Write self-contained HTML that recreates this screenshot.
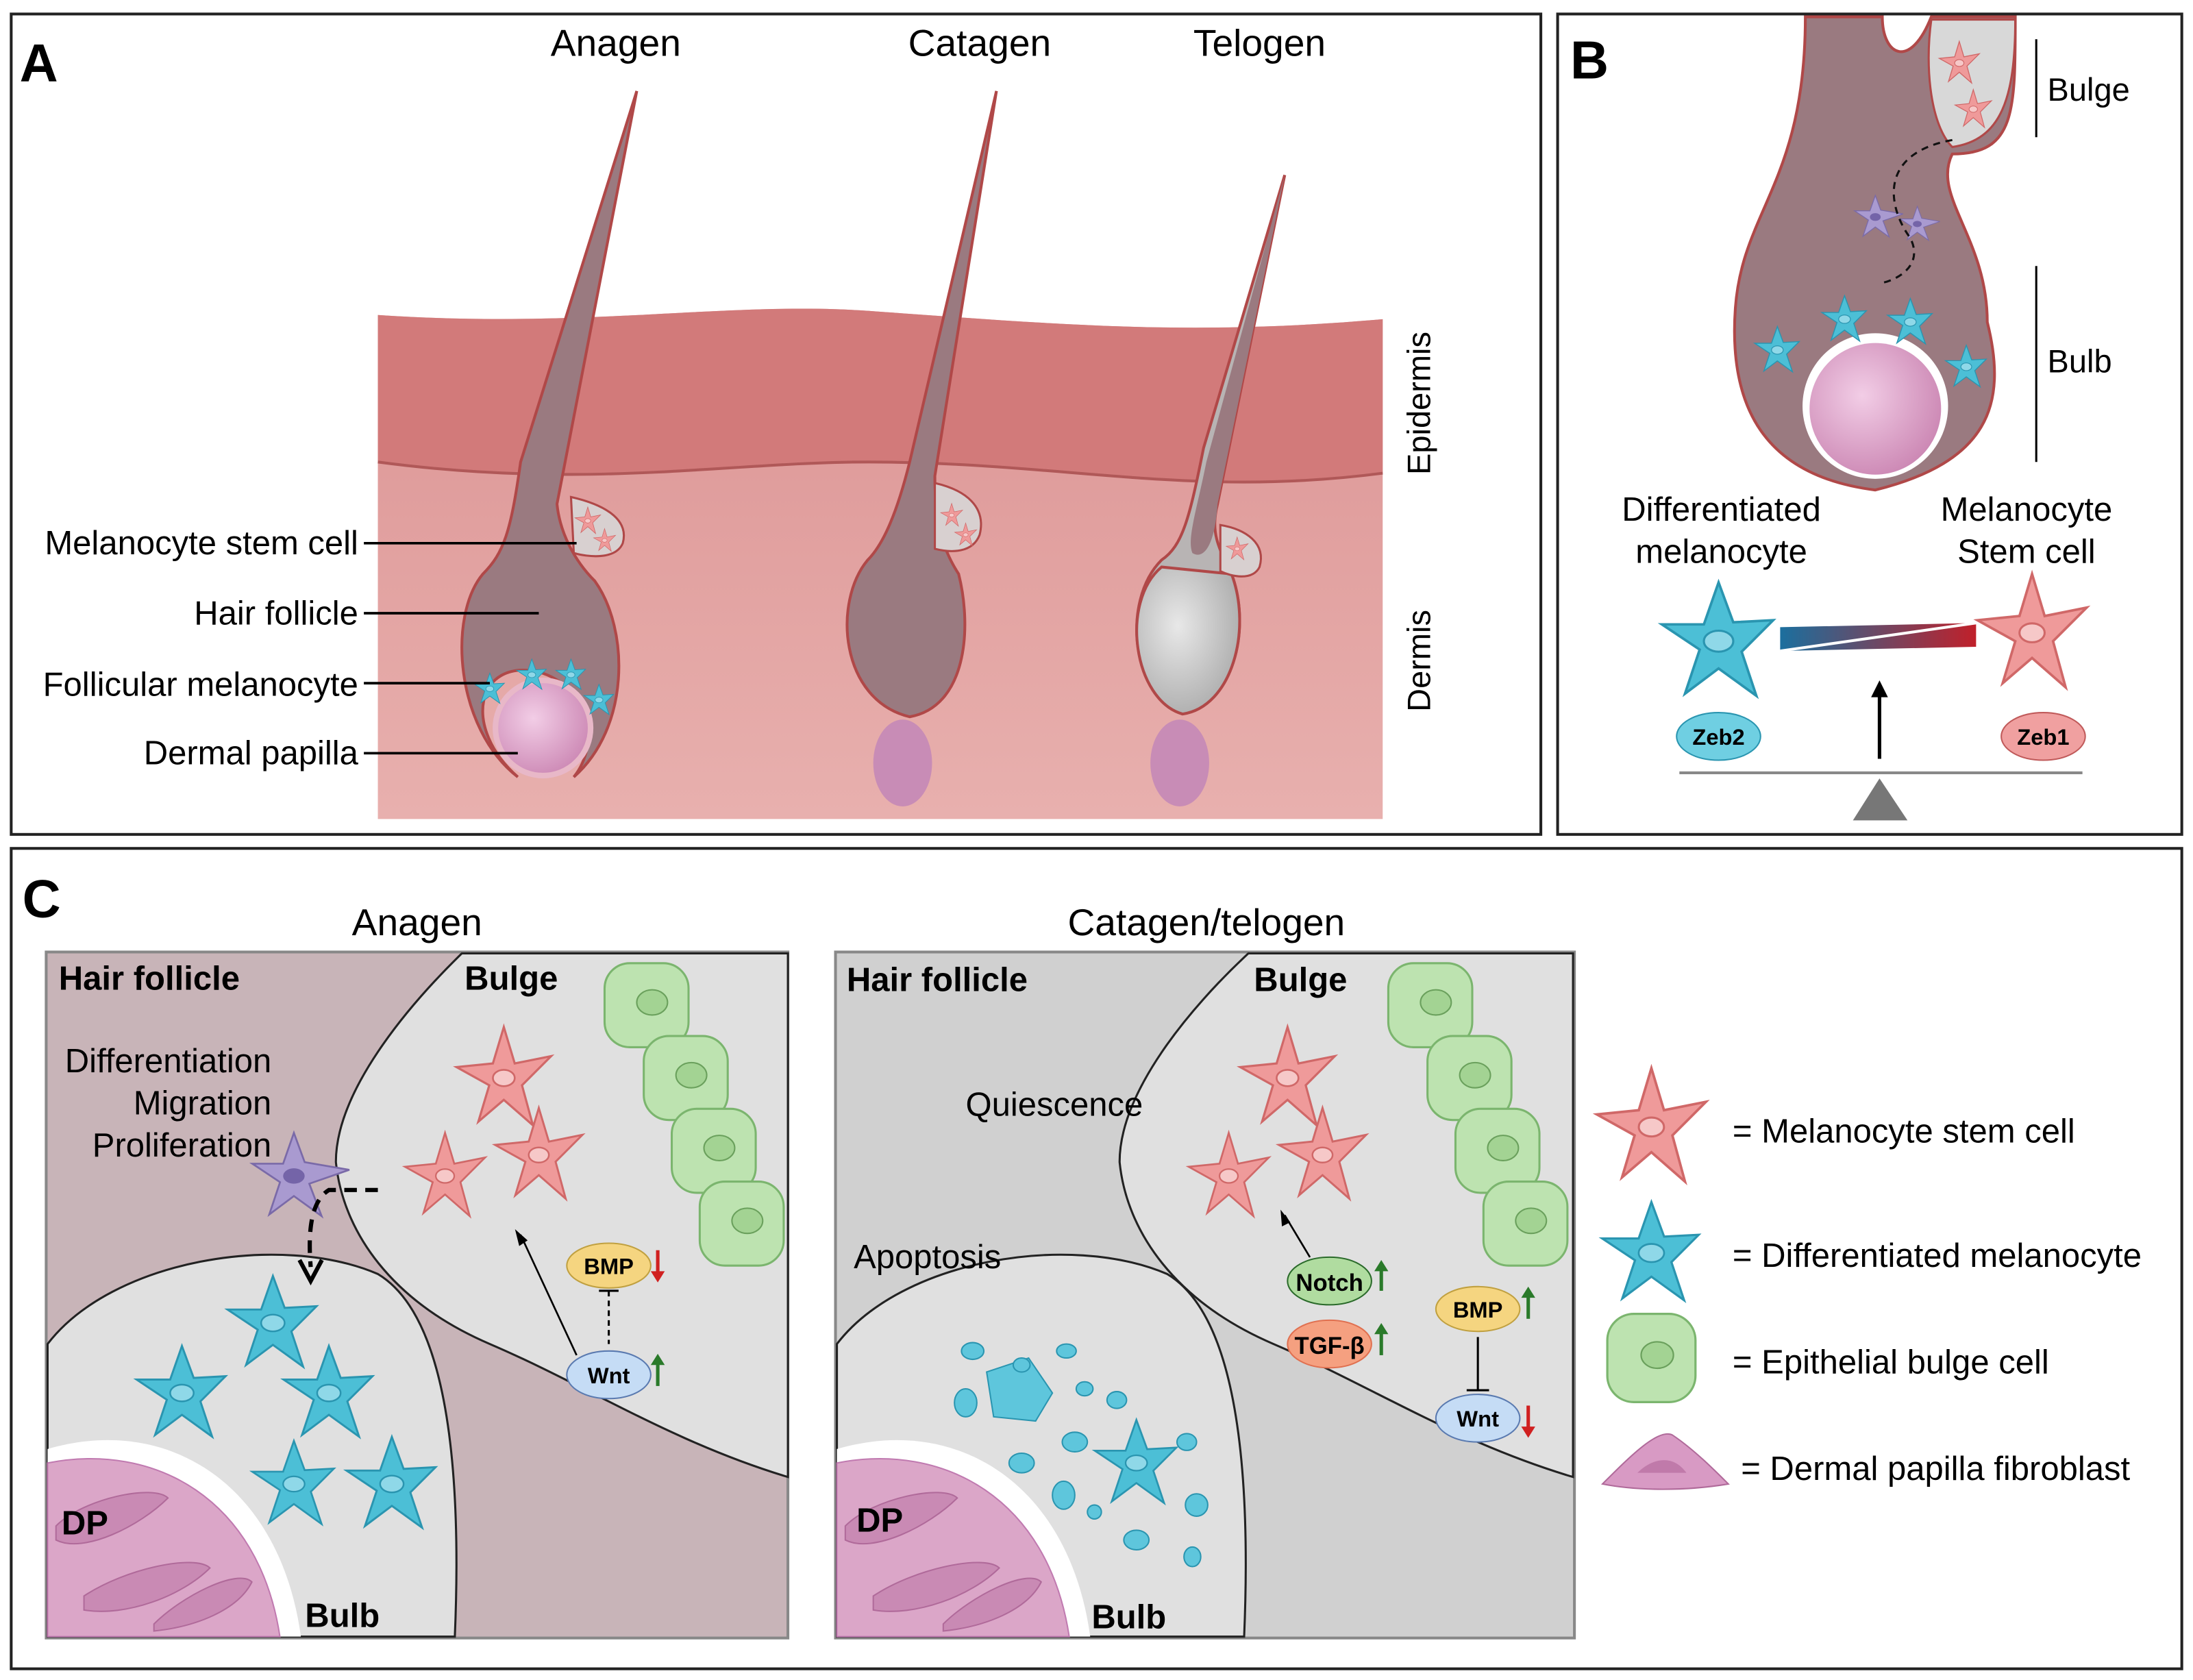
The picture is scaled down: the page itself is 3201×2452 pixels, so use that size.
<!DOCTYPE html>
<html><head><meta charset="utf-8"><style>
html,body{margin:0;padding:0;background:#fff}
svg{display:block}
text{font-family:"Liberation Sans",sans-serif}
</style></head><body>
<svg width="3201" height="2452" viewBox="0 0 1567 1200" preserveAspectRatio="none" xmlns="http://www.w3.org/2000/svg">
<defs>
<linearGradient id="derm" x1="0" y1="0" x2="0" y2="1"><stop offset="0" stop-color="#dc9494"/><stop offset="1" stop-color="#e8b0ae"/></linearGradient>
<linearGradient id="bar" x1="0" y1="0" x2="1" y2="0"><stop offset="0" stop-color="#1b6f9e"/><stop offset="1" stop-color="#c0202a"/></linearGradient>
<radialGradient id="dp" cx="0.4" cy="0.4" r="0.7"><stop offset="0" stop-color="#f2cde6"/><stop offset="1" stop-color="#c982b0"/></radialGradient>
<radialGradient id="grey" cx="0.4" cy="0.4" r="0.7"><stop offset="0" stop-color="#e8e8e8"/><stop offset="1" stop-color="#a8a8a8"/></radialGradient>
<g id="rs"><path d="M0,-28 L6,-8 L26,-12 L10,4 L16,26 L0,12 L-14,24 L-8,4 L-26,-6 L-6,-8 Z" fill="#ef9a9a" stroke="#d06868" stroke-width="1.2"/><ellipse cx="0" cy="0" rx="6" ry="4.5" fill="#f6c8c8" stroke="#d06868"/></g>
<g id="cs"><path d="M0,-28 L7,-9 L26,-10 L11,5 L18,26 L0,13 L-16,25 L-9,4 L-27,-8 L-7,-8 Z" fill="#4cbfd6" stroke="#2a95b0" stroke-width="1.2"/><ellipse cx="0" cy="0" rx="7" ry="5" fill="#8fd8e8" stroke="#2a95b0"/></g>
<g id="ps"><path d="M0,-28 L7,-9 L36,-4 L10,5 L18,26 L0,13 L-16,25 L-9,4 L-27,-8 L-7,-8 Z" fill="#a99ad0" stroke="#7a6aa8" stroke-width="1.2"/><ellipse cx="0" cy="0" rx="7" ry="5" fill="#7464a8"/></g>
<g id="ep"><rect x="-30" y="-30" width="60" height="60" rx="18" fill="#bde3b0" stroke="#7bb56e" stroke-width="1.5"/><ellipse cx="4" cy="-2" rx="11" ry="9" fill="#a3d393" stroke="#6aa05c"/></g>
</defs>

<rect x="8" y="10" width="1093" height="586" fill="#fff" stroke="#222" stroke-width="2"/>
<rect x="1113" y="10" width="446" height="586" fill="#fff" stroke="#222" stroke-width="2"/>
<rect x="8" y="606" width="1551" height="586" fill="#fff" stroke="#222" stroke-width="2"/>
<text x="14" y="58" font-size="38" font-weight="bold">A</text>
<text x="1122" y="56" font-size="38" font-weight="bold">B</text>
<text x="16" y="655" font-size="38" font-weight="bold">C</text>

<path d="M270,225 C420,235 520,215 620,222 C760,232 850,240 988,228 L988,585 L270,585 Z" fill="url(#derm)"/>
<path d="M270,225 C420,235 520,215 620,222 C760,232 850,240 988,228 L988,338 C850,356 760,330 620,330 C520,330 420,350 270,330 Z" fill="#d27a7a"/>
<path d="M270,330 C420,350 520,330 620,330 C760,330 850,356 988,338" fill="none" stroke="#b05858" stroke-width="2"/>
<text x="1022" y="288" font-size="23" transform="rotate(-90 1022 288)" text-anchor="middle">Epidermis</text>
<text x="1022" y="472" font-size="23" transform="rotate(-90 1022 472)" text-anchor="middle">Dermis</text>

<path d="M455,65 L372,330 C365,380 360,395 345,410 C320,440 325,520 370,555 C330,520 340,470 385,480 C420,490 430,530 410,555 C450,520 450,450 425,415 C410,400 400,380 398,360 Z" fill="#9a7a80" stroke="#b04848" stroke-width="2"/>
<path d="M408,355 C430,360 450,370 445,388 C440,400 420,398 410,395 Z" fill="#d8d0d0" stroke="#b04848" stroke-width="1.5"/>
<use href="#rs" transform="translate(420,372) scale(0.35)"/><use href="#rs" transform="translate(432,386) scale(0.3)"/>
<circle cx="388" cy="520" r="34" fill="url(#dp)" stroke="#e8b8c8" stroke-width="4"/>
<use href="#cs" transform="translate(350,492) scale(0.4)"/><use href="#cs" transform="translate(380,482) scale(0.4)"/><use href="#cs" transform="translate(408,482) scale(0.4)"/><use href="#cs" transform="translate(428,500) scale(0.4)"/>
<path d="M712,65 L650,330 C640,370 630,390 620,400 C595,430 600,500 650,512 C690,505 695,450 685,410 C672,390 668,370 668,340 Z" fill="#9a7a80" stroke="#b04848" stroke-width="2"/>
<path d="M668,345 C690,350 705,362 700,382 C695,395 680,395 668,392 Z" fill="#d8d0d0" stroke="#b04848" stroke-width="1.5"/>
<use href="#rs" transform="translate(680,368) scale(0.3)"/><use href="#rs" transform="translate(690,382) scale(0.3)"/>
<ellipse cx="645" cy="545" rx="21" ry="31" fill="#c88cb6"/>
<path d="M918,125 L860,320 C850,370 845,390 830,400 C800,430 810,500 845,510 C880,505 895,450 880,410 C870,390 865,380 870,360 Z" fill="#b8b4b4" stroke="#b04848" stroke-width="2"/>
<path d="M830,405 C800,430 810,500 845,510 C880,505 895,450 880,410 Z" fill="url(#grey)" stroke="#b04848" stroke-width="2"/>
<path d="M918,125 L862,330 C855,365 848,385 852,395 C860,400 868,390 870,360 Z" fill="#9a7a80"/>
<path d="M872,375 C890,378 905,388 900,405 C895,415 880,412 872,408 Z" fill="#d8d0d0" stroke="#b04848" stroke-width="1.5"/>
<use href="#rs" transform="translate(884,392) scale(0.3)"/>
<ellipse cx="843" cy="545" rx="21" ry="31" fill="#c88cb6"/>
<text x="440" y="40" font-size="27" text-anchor="middle">Anagen</text>
<text x="700" y="40" font-size="27" text-anchor="middle">Catagen</text>
<text x="900" y="40" font-size="27" text-anchor="middle">Telogen</text>
<g font-size="24" text-anchor="end">
<text x="256" y="396">Melanocyte stem cell</text><text x="256" y="446">Hair follicle</text>
<text x="256" y="497">Follicular melanocyte</text><text x="256" y="546">Dermal papilla</text></g>
<g stroke="#000" stroke-width="1.8"><line x1="260" y1="388" x2="412" y2="388"/><line x1="260" y1="438" x2="385" y2="438"/><line x1="260" y1="488" x2="350" y2="488"/><line x1="260" y1="538" x2="370" y2="538"/></g>

<path d="M1290,12 L1345,12 C1345,40 1365,50 1380,12 L1440,12 C1440,80 1440,110 1395,110 C1380,140 1420,170 1420,230 C1435,290 1420,330 1340,350 C1260,340 1235,290 1240,220 C1245,150 1290,130 1290,12 Z" fill="#9a7a80" stroke="#b04848" stroke-width="2"/>
<path d="M1380,14 L1440,14 C1440,70 1430,100 1395,105 C1380,90 1375,50 1380,14 Z" fill="#d8d8d8" stroke="#b04848" stroke-width="1.5"/>
<use href="#rs" transform="translate(1400,45) scale(0.55)"/><use href="#rs" transform="translate(1410,78) scale(0.5)"/>
<use href="#ps" transform="translate(1340,155) scale(0.55)"/><use href="#ps" transform="translate(1370,160) scale(0.45)"/>
<path d="M1395,100 C1340,110 1350,150 1365,170 C1375,190 1355,200 1345,202" fill="none" stroke="#111" stroke-width="1.5" stroke-dasharray="5,4"/>
<circle cx="1340" cy="290" r="52" fill="#fff"/><circle cx="1340" cy="292" r="47" fill="url(#dp)"/>
<use href="#cs" transform="translate(1270,250) scale(0.6)"/><use href="#cs" transform="translate(1318,228) scale(0.6)"/><use href="#cs" transform="translate(1365,230) scale(0.6)"/><use href="#cs" transform="translate(1405,262) scale(0.55)"/>
<line x1="1455" y1="28" x2="1455" y2="98" stroke="#000" stroke-width="1.5"/><line x1="1455" y1="190" x2="1455" y2="330" stroke="#000" stroke-width="1.5"/>
<text x="1463" y="72" font-size="23">Bulge</text><text x="1463" y="266" font-size="23">Bulb</text>
<g font-size="24" text-anchor="middle"><text x="1230" y="372">Differentiated</text><text x="1230" y="402">melanocyte</text><text x="1448" y="372">Melanocyte</text><text x="1448" y="402">Stem cell</text></g>
<g transform="translate(1228,458) scale(1.5)"><use href="#cs"/></g>
<g transform="translate(1452,452) scale(1.5)"><use href="#rs"/></g>
<path d="M1272,448 L1412,445 L1412,462 L1272,465 Z" fill="url(#bar)"/><line x1="1272" y1="465" x2="1412" y2="445" stroke="#fff" stroke-width="2"/>
<line x1="1343" y1="542" x2="1343" y2="495" stroke="#000" stroke-width="2.5"/><path d="M1337,498 L1343,486 L1349,498Z"/>
<line x1="1200" y1="552" x2="1488" y2="552" stroke="#888" stroke-width="2"/>
<path d="M1324,586 L1343,556 L1363,586Z" fill="#777"/>
<ellipse cx="1228" cy="526" rx="30" ry="17" fill="#6fcfe2" stroke="#2a95b0"/><text x="1228" y="532" font-size="16" font-weight="bold" text-anchor="middle">Zeb2</text>
<ellipse cx="1460" cy="526" rx="30" ry="17" fill="#f0a0a0" stroke="#c05a5a"/><text x="1460" y="532" font-size="16" font-weight="bold" text-anchor="middle">Zeb1</text>

<text x="298" y="668" font-size="27" text-anchor="middle">Anagen</text>
<text x="862" y="668" font-size="27" text-anchor="middle">Catagen/telogen</text>
<rect x="33" y="680" width="530" height="490" fill="#c8b4b8" stroke="#888" stroke-width="2"/>
<path d="M330,681 C290,720 240,780 240,830 C245,880 280,930 350,960 C420,990 480,1030 563,1055 L563,681 Z" fill="#e0e0e0" stroke="#222" stroke-width="1.5"/>
<path d="M34,1169 L34,960 C80,900 200,880 270,910 C320,940 330,1050 325,1169 Z" fill="#e0e0e0" stroke="#222" stroke-width="1.5"/>
<path d="M34,1169 L34,1035 C120,1010 200,1060 215,1169 Z" fill="#fff"/>
<path d="M34,1169 L34,1045 C110,1030 185,1070 200,1169 Z" fill="#dba6c8" stroke="#c07ab0"/>
<path d="M40,1090 C60,1070 110,1060 120,1070 C100,1090 60,1110 40,1100Z" fill="#c98ab4" stroke="#b06a9a"/>
<path d="M60,1140 C90,1120 140,1110 150,1120 C130,1140 90,1155 60,1150Z" fill="#c98ab4" stroke="#b06a9a"/>
<path d="M110,1160 C130,1140 170,1120 180,1130 C170,1150 140,1162 110,1165Z" fill="#c98ab4" stroke="#b06a9a"/>
<g><use href="#ep" transform="translate(462,718)"/><use href="#ep" transform="translate(490,770)"/><use href="#ep" transform="translate(510,822)"/><use href="#ep" transform="translate(530,874)"/></g>
<use href="#rs" transform="translate(360,770) scale(1.3)"/><use href="#rs" transform="translate(318,840) scale(1.1)"/><use href="#rs" transform="translate(385,825) scale(1.2)"/>
<use href="#ps" transform="translate(210,840) scale(1.1)"/>
<use href="#cs" transform="translate(195,945) scale(1.2)"/><use href="#cs" transform="translate(130,995) scale(1.2)"/><use href="#cs" transform="translate(235,995) scale(1.2)"/><use href="#cs" transform="translate(210,1060) scale(1.1)"/><use href="#cs" transform="translate(280,1060) scale(1.2)"/>
<path d="M270,850 L235,850 C222,858 220,880 222,905" fill="none" stroke="#000" stroke-width="3" stroke-dasharray="9,6"/>
<path d="M214,900 L222,915 L230,900" fill="none" stroke="#000" stroke-width="3"/>
<text x="42" y="707" font-size="24" font-weight="bold">Hair follicle</text>
<text x="332" y="707" font-size="24" font-weight="bold">Bulge</text>
<text x="44" y="1096" font-size="24" font-weight="bold">DP</text>
<text x="218" y="1162" font-size="24" font-weight="bold">Bulb</text>
<g font-size="24" text-anchor="end"><text x="194" y="766">Differentiation</text><text x="194" y="796">Migration</text><text x="194" y="826">Proliferation</text></g>
<ellipse cx="435" cy="904" rx="30" ry="16" fill="#f5d580" stroke="#c0a040"/><text x="435" y="910" font-size="16" font-weight="bold" text-anchor="middle">BMP</text>
<path d="M470,893 L470,910" stroke="#d02020" stroke-width="2.5"/><path d="M465,908 L470,916 L475,908Z" fill="#d02020"/>
<ellipse cx="435" cy="982" rx="30" ry="17" fill="#c5dcf5" stroke="#5a7ab0"/><text x="435" y="988" font-size="16" font-weight="bold" text-anchor="middle">Wnt</text>
<path d="M470,990 L470,972" stroke="#2a7a2a" stroke-width="2.5"/><path d="M465,975 L470,967 L475,975Z" fill="#2a7a2a"/>
<line x1="435" y1="922" x2="435" y2="960" stroke="#000" stroke-width="1.5" stroke-dasharray="4,3"/><line x1="428" y1="922" x2="442" y2="922" stroke="#000" stroke-width="1.5"/>
<line x1="412" y1="968" x2="372" y2="882" stroke="#000" stroke-width="1.3"/><path d="M368,878 L371,890 L377,886Z"/>

<rect x="597" y="680" width="528" height="490" fill="#d0d0d0" stroke="#888" stroke-width="2"/>
<path d="M892,681 C850,720 800,780 800,830 C805,880 840,930 910,960 C980,990 1040,1030 1124,1055 L1124,681 Z" fill="#e0e0e0" stroke="#222" stroke-width="1.5"/>
<path d="M598,1169 L598,960 C644,900 764,880 834,910 C884,940 894,1050 889,1169 Z" fill="#e0e0e0" stroke="#222" stroke-width="1.5"/>
<path d="M598,1169 L598,1035 C684,1010 764,1060 779,1169 Z" fill="#fff"/>
<path d="M598,1169 L598,1045 C674,1030 749,1070 764,1169 Z" fill="#dba6c8" stroke="#c07ab0"/>
<path d="M604,1090 C624,1070 674,1060 684,1070 C664,1090 624,1110 604,1100Z" fill="#c98ab4" stroke="#b06a9a"/>
<path d="M624,1140 C654,1120 704,1110 714,1120 C694,1140 654,1155 624,1150Z" fill="#c98ab4" stroke="#b06a9a"/>
<path d="M674,1160 C694,1140 734,1120 744,1130 C734,1150 704,1162 674,1165Z" fill="#c98ab4" stroke="#b06a9a"/>
<g><use href="#ep" transform="translate(1022,718)"/><use href="#ep" transform="translate(1050,770)"/><use href="#ep" transform="translate(1070,822)"/><use href="#ep" transform="translate(1090,874)"/></g>
<use href="#rs" transform="translate(920,770) scale(1.3)"/><use href="#rs" transform="translate(878,840) scale(1.1)"/><use href="#rs" transform="translate(945,825) scale(1.2)"/>
<g fill="#5ec6dc" stroke="#2a95b0">
<path d="M705,980 L735,970 L752,995 L740,1015 L710,1012 Z"/><use href="#cs" transform="translate(812,1045) scale(1.1)"/>
<ellipse cx="695" cy="965" rx="8" ry="6"/><ellipse cx="690" cy="1002" rx="8" ry="10"/><ellipse cx="762" cy="965" rx="7" ry="5"/><ellipse cx="775" cy="992" rx="6" ry="5"/><ellipse cx="798" cy="1000" rx="7" ry="6"/><ellipse cx="768" cy="1030" rx="9" ry="7"/><ellipse cx="730" cy="1045" rx="9" ry="7"/><ellipse cx="760" cy="1068" rx="8" ry="10"/><ellipse cx="848" cy="1030" rx="7" ry="6"/><ellipse cx="855" cy="1075" rx="8" ry="8"/><ellipse cx="812" cy="1100" rx="9" ry="7"/><ellipse cx="852" cy="1112" rx="6" ry="7"/><ellipse cx="782" cy="1080" rx="5" ry="5"/><ellipse cx="730" cy="975" rx="6" ry="5"/>
</g>
<text x="605" y="708" font-size="24" font-weight="bold">Hair follicle</text>
<text x="896" y="708" font-size="24" font-weight="bold">Bulge</text>
<text x="612" y="1094" font-size="24" font-weight="bold">DP</text>
<text x="780" y="1163" font-size="24" font-weight="bold">Bulb</text>
<text x="690" y="797" font-size="24">Quiescence</text>
<text x="610" y="906" font-size="24">Apoptosis</text>
<ellipse cx="950" cy="915" rx="30" ry="17" fill="#b0dca0" stroke="#2a6a2a"/><text x="950" y="922" font-size="17" font-weight="bold" text-anchor="middle">Notch</text>
<path d="M987,922 L987,905" stroke="#2a7a2a" stroke-width="2.5"/><path d="M982,908 L987,900 L992,908Z" fill="#2a7a2a"/>
<ellipse cx="950" cy="960" rx="30" ry="17" fill="#f5a080" stroke="#e07050"/><text x="950" y="967" font-size="17" font-weight="bold" text-anchor="middle">TGF-β</text>
<path d="M987,968 L987,950" stroke="#2a7a2a" stroke-width="2.5"/><path d="M982,953 L987,945 L992,953Z" fill="#2a7a2a"/>
<line x1="936" y1="898" x2="918" y2="868" stroke="#000" stroke-width="1.3"/><path d="M915,864 L916,876 L922,873Z"/>
<ellipse cx="1056" cy="935" rx="30" ry="16" fill="#f5d580" stroke="#c0a040"/><text x="1056" y="941" font-size="16" font-weight="bold" text-anchor="middle">BMP</text>
<path d="M1092,942 L1092,924" stroke="#2a7a2a" stroke-width="2.5"/><path d="M1087,927 L1092,919 L1097,927Z" fill="#2a7a2a"/>
<ellipse cx="1056" cy="1013" rx="30" ry="17" fill="#c5dcf5" stroke="#5a7ab0"/><text x="1056" y="1019" font-size="16" font-weight="bold" text-anchor="middle">Wnt</text>
<path d="M1092,1004 L1092,1021" stroke="#d02020" stroke-width="2.5"/><path d="M1087,1019 L1092,1027 L1097,1019Z" fill="#d02020"/>
<line x1="1056" y1="955" x2="1056" y2="993" stroke="#000" stroke-width="1.5"/><line x1="1048" y1="993" x2="1064" y2="993" stroke="#000" stroke-width="1.5"/>

<use href="#rs" transform="translate(1180,805) scale(1.5)"/>
<use href="#cs" transform="translate(1180,895) scale(1.3)"/>
<use href="#ep" transform="translate(1180,970) scale(1.05)"/>
<path d="M1145,1060 C1165,1040 1185,1020 1195,1025 C1210,1035 1225,1050 1235,1060 C1205,1065 1170,1065 1145,1060Z" fill="#d89ac4" stroke="#b06a9a"/>
<path d="M1170,1052 C1180,1042 1195,1038 1205,1052Z" fill="#c07aaa"/>
<g font-size="24"><text x="1238" y="816">= Melanocyte stem cell</text><text x="1238" y="905">= Differentiated melanocyte</text><text x="1238" y="981">= Epithelial bulge cell</text><text x="1244" y="1057">= Dermal papilla fibroblast</text></g>
</svg>
</body></html>
